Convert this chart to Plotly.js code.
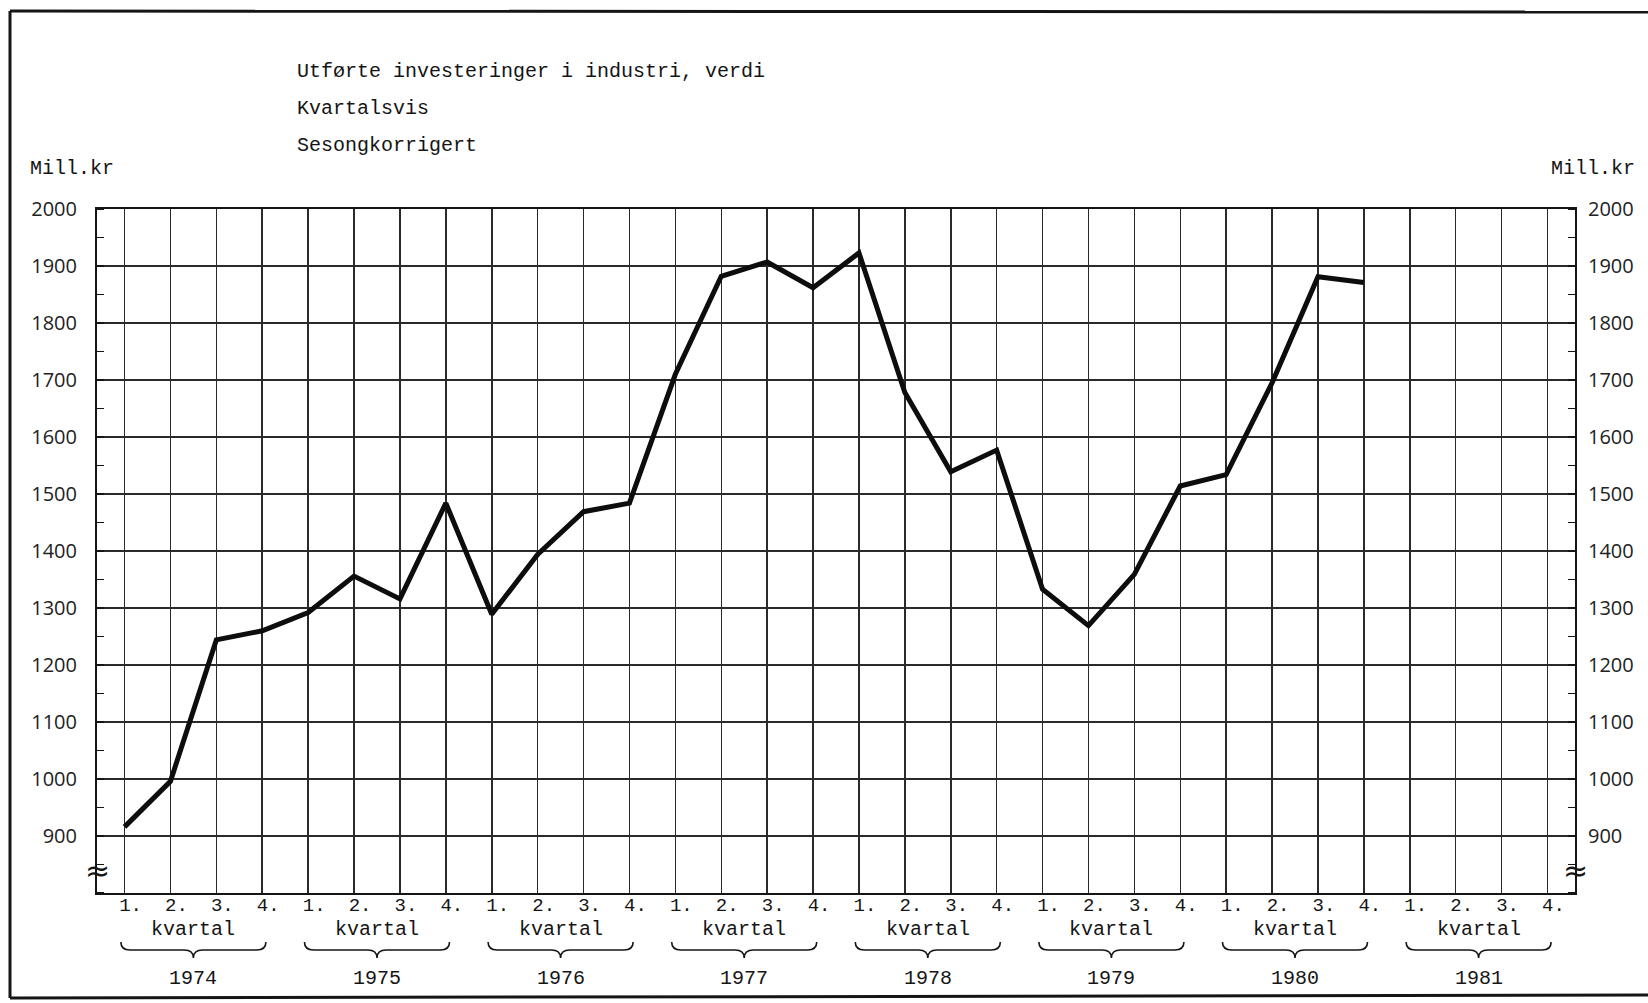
<!DOCTYPE html>
<html>
<head>
<meta charset="utf-8">
<script src="https://cdn.plot.ly/plotly-3.0.1.min.js"></script>
<style>
html,body{margin:0;padding:0;background:#fff;}
#chart{width:1648px;height:1003px;}
</style>
</head>
<body>
<div id="chart"></div>
<script>
// ---- Data ----
const years = [1974, 1975, 1976, 1977, 1978, 1979, 1980, 1981];
const quarterLabels = ["1.", "2.", "3.", "4."];
const v1974 = [916, 996, 1244, 1260];
const v1975 = [1292, 1356, 1316, 1484];
const v1976 = [1289, 1394, 1469, 1484];
const v1977 = [1710, 1882, 1907, 1862];
const v1978 = [1923, 1678, 1539, 1577];
const v1979 = [1333, 1269, 1359, 1514];
const v1980 = [1534, 1695, 1881, 1871];
const v1981 = [];
const yearValues = [v1974, v1975, v1976, v1977, v1978, v1979, v1980, v1981];
const yTicks = [900, 1000, 1100, 1200, 1300, 1400, 1500, 1600, 1700, 1800, 1900, 2000];
const titleLines = ["Utførte investeringer i industri, verdi", "Kvartalsvis", "Sesongkorrigert"];
const unitLabel = "Mill.kr";
const periodLabel = "kvartal";
const breakSymbol = "≈";

// ---- Build series ----
const tickVals = [], tickText = [];
years.forEach((yr, i) => quarterLabels.forEach((q, j) => { tickVals.push(4 * i + j); tickText.push(q); }));
const xs = [], ys = [];
yearValues.forEach((arr, i) => arr.forEach((v, j) => { xs.push(4 * i + j); ys.push(v); }));

const ink = '#151515';
const mono = 'Liberation Mono, Courier New, monospace';
const sans = 'Open Sans, DejaVu Sans, sans-serif';

// plot area in pixels: left 97, right 1575, top 209, bottom 893
const L = 97, R = 1575, T = 209, B = 893;
const px2py = p => (B - p) / (B - T);
const px2px = p => (p - L) / (R - L);

const traces = [
  { x: xs, y: ys, type: 'scatter', mode: 'lines',
    line: { color: '#0d0d0d', width: 5 }, hoverinfo: 'x+y', showlegend: false },
  { x: [], y: [], type: 'scatter', mode: 'lines', yaxis: 'y2', showlegend: false, hoverinfo: 'skip' }
];

const annotations = [];
titleLines.forEach((t, k) => {
  annotations.push({ text: t, xref: 'paper', yref: 'paper', x: px2px(295), y: px2py(71 + 37 * k),
    xanchor: 'left', yanchor: 'middle', showarrow: false, font: { family: mono, size: 20, color: ink } });
});
annotations.push({ text: unitLabel, xref: 'paper', yref: 'paper', x: px2px(28), y: px2py(169),
  xanchor: 'left', yanchor: 'middle', showarrow: false, font: { family: mono, size: 20, color: ink } });
annotations.push({ text: unitLabel, xref: 'paper', yref: 'paper', x: px2px(1637), y: px2py(169),
  xanchor: 'right', yanchor: 'middle', showarrow: false, font: { family: mono, size: 20, color: ink } });
annotations.push({ text: breakSymbol, xref: 'paper', yref: 'y', x: 0, y: 840,
  xanchor: 'center', yanchor: 'middle', showarrow: false, font: { family: 'DejaVu Sans, sans-serif', size: 30, color: ink } });
annotations.push({ text: breakSymbol, xref: 'paper', yref: 'y', x: 1, y: 840,
  xanchor: 'center', yanchor: 'middle', showarrow: false, font: { family: 'DejaVu Sans, sans-serif', size: 30, color: ink } });

const shapes = [];
const yTop = px2py(942), yMid = px2py(950), yTip = px2py(958);
years.forEach((yr, i) => {
  const mid = 4 * i + 1.5;
  annotations.push({ text: periodLabel, xref: 'x', yref: 'paper', x: mid, y: px2py(929),
    xanchor: 'center', yanchor: 'middle', showarrow: false, font: { family: mono, size: 20, color: ink } });
  annotations.push({ text: String(yr), xref: 'x', yref: 'paper', x: mid, y: px2py(978),
    xanchor: 'center', yanchor: 'middle', showarrow: false, font: { family: mono, size: 20, color: ink } });
  const x0 = 4 * i - 0.08, x1 = 4 * i + 3 + 0.08, c = 0.2;
  const path = `M ${x0},${yTop} Q ${x0},${yMid} ${x0 + c},${yMid} L ${mid - c},${yMid} Q ${mid},${yMid} ${mid},${yTip} ` +
               `Q ${mid},${yMid} ${mid + c},${yMid} L ${x1 - c},${yMid} Q ${x1},${yMid} ${x1},${yTop}`;
  shapes.push({ type: 'path', xref: 'x', yref: 'paper', path: path, line: { color: ink, width: 1.6 } });
});
// outer frame
shapes.push({ type: 'line', xref: 'paper', yref: 'paper', x0: px2px(10), x1: px2px(1660), y0: px2py(11), y1: px2py(12), line: { color: ink, width: 3 } });
shapes.push({ type: 'line', xref: 'paper', yref: 'paper', x0: px2px(10), x1: px2px(10), y0: px2py(11), y1: px2py(998), line: { color: ink, width: 3 } });
shapes.push({ type: 'line', xref: 'paper', yref: 'paper', x0: px2px(10), x1: px2px(1660), y0: px2py(998), y1: px2py(995), line: { color: ink, width: 3 } });

const yAxisCommon = {
  range: [800, 2000], tickmode: 'array', tickvals: yTicks, ticks: '',
  showline: true, linecolor: ink, linewidth: 2, zeroline: false, fixedrange: true,
  tickfont: { family: sans, size: 20, color: '#222' },
  minor: { tickmode: 'linear', tick0: 800, dtick: 50, ticks: 'inside', ticklen: 7, tickwidth: 1.5, tickcolor: ink, showgrid: false }
};

const layout = {
  width: 1648, height: 1003,
  margin: { l: L, r: 1648 - R, t: T, b: 1003 - B, pad: 0 },
  paper_bgcolor: '#ffffff', plot_bgcolor: '#ffffff',
  showlegend: false,
  xaxis: {
    range: [-0.6, 31.6], tickmode: 'array', tickvals: tickVals, ticktext: tickText,
    showgrid: true, gridcolor: '#2a2a2a', gridwidth: 1.5, ticks: '',
    showline: true, mirror: true, linecolor: ink, linewidth: 2, zeroline: false, fixedrange: true,
    tickfont: { family: mono, size: 19, color: ink }, tickangle: 0, ticklabelshift: 6, ticklabelstandoff: -7
  },
  yaxis: Object.assign({}, yAxisCommon, { side: 'left', showgrid: true, gridcolor: '#2a2a2a', gridwidth: 1.5, ticklabelstandoff: 14 }),
  yaxis2: Object.assign({}, yAxisCommon, { side: 'right', overlaying: 'y', showgrid: false, ticklabelstandoff: 7 }),
  annotations: annotations,
  shapes: shapes
};

Plotly.newPlot('chart', traces, layout, { staticPlot: true, displayModeBar: false });
</script>
</body>
</html>
